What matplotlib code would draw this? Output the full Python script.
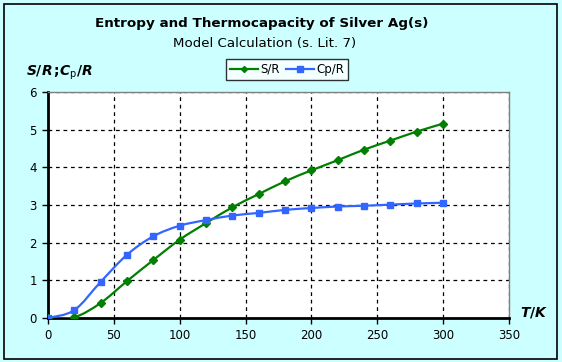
import matplotlib
matplotlib.use("Agg")
import matplotlib.pyplot as plt
from matplotlib.patches import Rectangle, PathPatch
from matplotlib.path import Path

T = [0, 20, 40, 60, 80, 100, 120, 140, 160, 180, 200, 220, 240, 260, 280, 300]
S_R = [0.0, 0.02, 0.40, 0.98, 1.54, 2.08, 2.52, 2.94, 3.29, 3.63, 3.92, 4.19, 4.47, 4.71, 4.95, 5.16]
Cp_R = [0.0, 0.21, 0.96, 1.68, 2.17, 2.45, 2.60, 2.72, 2.79, 2.87, 2.92, 2.96, 2.98, 3.01, 3.04, 3.06]
xticks = [0, 50, 100, 150, 200, 250, 300, 350]
yticks = [0, 1, 2, 3, 4, 5, 6]

plt.rcParams["mathtext.fontset"] = "custom"
plt.rcParams["mathtext.rm"] = "DejaVu Sans:bold"
plt.rcParams["mathtext.it"] = "DejaVu Sans:italic:bold"
plt.rcParams["mathtext.sf"] = "DejaVu Sans"


def smooth_path(xs, ys, t=1 / 6):
    """Excel-style smoothed line (Catmull-Rom Bezier) through the data points."""
    verts = [(xs[0], ys[0])]
    codes = [Path.MOVETO]
    n = len(xs)
    for i in range(n - 1):
        x0, y0 = (xs[i - 1], ys[i - 1]) if i > 0 else (xs[i], ys[i])
        x1, y1 = xs[i], ys[i]
        x2, y2 = xs[i + 1], ys[i + 1]
        x3, y3 = (xs[i + 2], ys[i + 2]) if i + 2 < n else (x2, y2)
        c1 = (x1 + (x2 - x0) * t, y1 + (y2 - y0) * t)
        c2 = (x2 - (x3 - x1) * t, y2 - (y3 - y1) * t)
        verts += [c1, c2, (x2, y2)]
        codes += [Path.CURVE4] * 3
    return Path(verts, codes)


W, H = 562, 362
fig = plt.figure(figsize=(W / 100, H / 100), dpi=100)
fig.patch.set_facecolor("#CCFFFF")
fig.patches.append(Rectangle((4 / W, 3 / H), 553 / W, 355 / H, transform=fig.transFigure,
                             fill=False, edgecolor="black", linewidth=1.2))

left, right, top, bottom = 48, 509, 92, 318
ax = fig.add_axes([left / W, 1 - bottom / H, (right - left) / W, (bottom - top) / H])
ax.set_facecolor("white")

green = "#007F00"
blue = "#3366FF"
ax.add_patch(PathPatch(smooth_path(T, S_R), fill=False, edgecolor=green, lw=1.6, zorder=3))
ax.add_patch(PathPatch(smooth_path(T, Cp_R), fill=False, edgecolor=blue, lw=1.6, zorder=3))
ax.plot(T, S_R, color=green, lw=1.6, ls="none", marker="D", ms=3.8, label="S/R", zorder=4)
ax.plot(T, Cp_R, color=blue, lw=1.6, ls="none", marker="s", ms=4.6, label="Cp/R", zorder=4)
# legend proxies with line + marker
h1, = ax.plot([], [], color=green, lw=1.6, marker="D", ms=3.8)
h2, = ax.plot([], [], color=blue, lw=1.6, marker="s", ms=4.6)

ax.set_xlim(0, 350)
ax.set_ylim(0, 6)
ax.set_xticks(xticks)
ax.set_yticks(yticks)
ax.grid(True, color="black", linestyle=(0, (3, 3)), linewidth=0.9)
for s in ["top", "right"]:
    ax.spines[s].set_color("gray")
    ax.spines[s].set_linewidth(1)
for s in ["left", "bottom"]:
    ax.spines[s].set_color("black")
    ax.spines[s].set_linewidth(2)
ax.tick_params(direction="out", length=4, width=1, labelsize=8.5, pad=4, color="black")

fig.text(262 / W, 1 - 23 / H, "Entropy and Thermocapacity of Silver Ag(s)",
         ha="center", va="center", fontsize=9.7, fontweight="bold")
fig.text(265 / W, 1 - 43 / H, "Model Calculation (s. Lit. 7)",
         ha="center", va="center", fontsize=9.6)
fig.text(26 / W, 1 - 73 / H, r"$S/R\;\!;\!C_{\mathsf{p}}/R$",
         ha="left", va="center", fontsize=10)
fig.text(520 / W, 1 - 312 / H, r"$T/\mathit{K}$",
         ha="left", va="center", fontsize=10)

leg = ax.legend([h1, h2], ["S/R", "Cp/R"], loc="center", bbox_to_anchor=(287 / W, 1 - 69.5 / H),
                bbox_transform=fig.transFigure, ncol=2, frameon=True, fancybox=False,
                fontsize=8.5, handlelength=2.4, handletextpad=0.2, columnspacing=0.5,
                borderpad=0.3, markerscale=0.8)
leg.get_frame().set_edgecolor("black")
leg.get_frame().set_linewidth(1)
leg.get_frame().set_facecolor("white")

fig.savefig("out.png", dpi=100, facecolor=fig.get_facecolor())
